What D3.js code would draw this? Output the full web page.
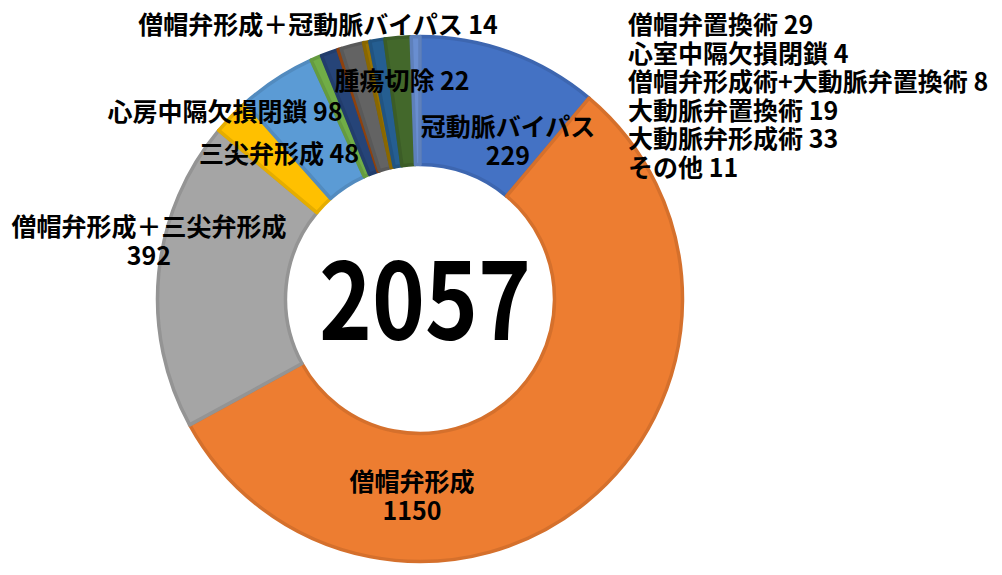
<!DOCTYPE html>
<html lang="ja">
<head>
<meta charset="utf-8">
<title>手術件数</title>
<script src="https://cdn.jsdelivr.net/npm/d3@7"></script>
<style>
  body { margin: 0; background: #fff; }
  text { font-family: "Noto Sans CJK JP", sans-serif; font-weight: bold; fill: #000; }
</style>
</head>
<body>
<script>
// データ
var categories = ["冠動脈バイパス", "僧帽弁形成", "僧帽弁形成＋三尖弁形成", "三尖弁形成", "心房中隔欠損閉鎖",
  "僧帽弁形成＋冠動脈バイパス", "腫瘍切除", "心室中隔欠損閉鎖", "僧帽弁置換術",
  "僧帽弁形成術+大動脈弁置換術", "大動脈弁置換術", "大動脈弁形成術", "その他"];
var values = [229, 1150, 392, 48, 98, 14, 22, 4, 29, 8, 19, 33, 11];
var colors = ["#4472C4", "#ED7D31", "#A5A5A5", "#FFC000", "#5B9BD5", "#70AD47", "#264478",
  "#9E480E", "#636363", "#997300", "#255E91", "#43682B", "#698ED0"];
// 右側に並べるラベル
var sideLabels = ["僧帽弁置換術", "心室中隔欠損閉鎖", "僧帽弁形成術+大動脈弁置換術", "大動脈弁置換術", "大動脈弁形成術", "その他"];

var width = 1002, height = 575;
var cx = 420, cy = 299;
var outerRadius = 264, innerRadius = 133;

var svg = d3.select("body").append("svg")
  .attr("width", width)
  .attr("height", height);

var pie = d3.pie().sort(null).value(function (d) { return d; });
var piedata = pie(values);

var arc = d3.arc()
  .innerRadius(innerRadius + 1.5)
  .outerRadius(outerRadius - 1.5);

var g = svg.append("g").attr("transform", "translate(" + cx + "," + cy + ")");

g.selectAll("path")
  .data(piedata)
  .enter()
  .append("path")
  .attr("d", arc)
  .attr("fill", function (d, i) { return colors[i]; })
  .attr("stroke", function (d, i) { return d3.color(colors[i]).darker(0.3); })
  .attr("stroke-width", 3.5)
  .attr("stroke-linejoin", "round");

// 中央の合計
var total = d3.sum(values);
svg.append("text")
  .attr("x", 425)
  .attr("y", 340)
  .attr("text-anchor", "middle")
  .attr("font-size", 106)
  .attr("textLength", 212)
  .attr("lengthAdjust", "spacingAndGlyphs")
  .text(total);

// ラベル位置（中心x, 1行目の中心y, 2行表示かどうか）
var labelPos = {
  "冠動脈バイパス": [508, 125, true],
  "僧帽弁形成": [412, 480, true],
  "僧帽弁形成＋三尖弁形成": [149, 225, true],
  "三尖弁形成": [279, 152, false],
  "心房中隔欠損閉鎖": [225, 110, false],
  "僧帽弁形成＋冠動脈バイパス": [318, 23, false],
  "腫瘍切除": [402, 79, false]
};

var fs = 25;
categories.forEach(function (name, i) {
  var p = labelPos[name];
  if (p) {
    var t = svg.append("text")
      .attr("text-anchor", "middle")
      .attr("font-size", fs)
      .attr("dominant-baseline", "central");
    if (p[2]) {
      t.append("tspan").attr("x", p[0]).attr("y", p[1]).text(name);
      t.append("tspan").attr("x", p[0]).attr("y", p[1] + 29).text(values[i]);
    } else {
      t.attr("x", p[0]).attr("y", p[1]).text(name + " " + values[i]);
    }
  }
});

sideLabels.forEach(function (name, k) {
  var i = categories.indexOf(name);
  svg.append("text")
    .attr("x", 628)
    .attr("y", 23 + k * 28.5)
    .attr("font-size", fs)
    .attr("dominant-baseline", "central")
    .text(name + " " + values[i]);
});
</script>
</body>
</html>
